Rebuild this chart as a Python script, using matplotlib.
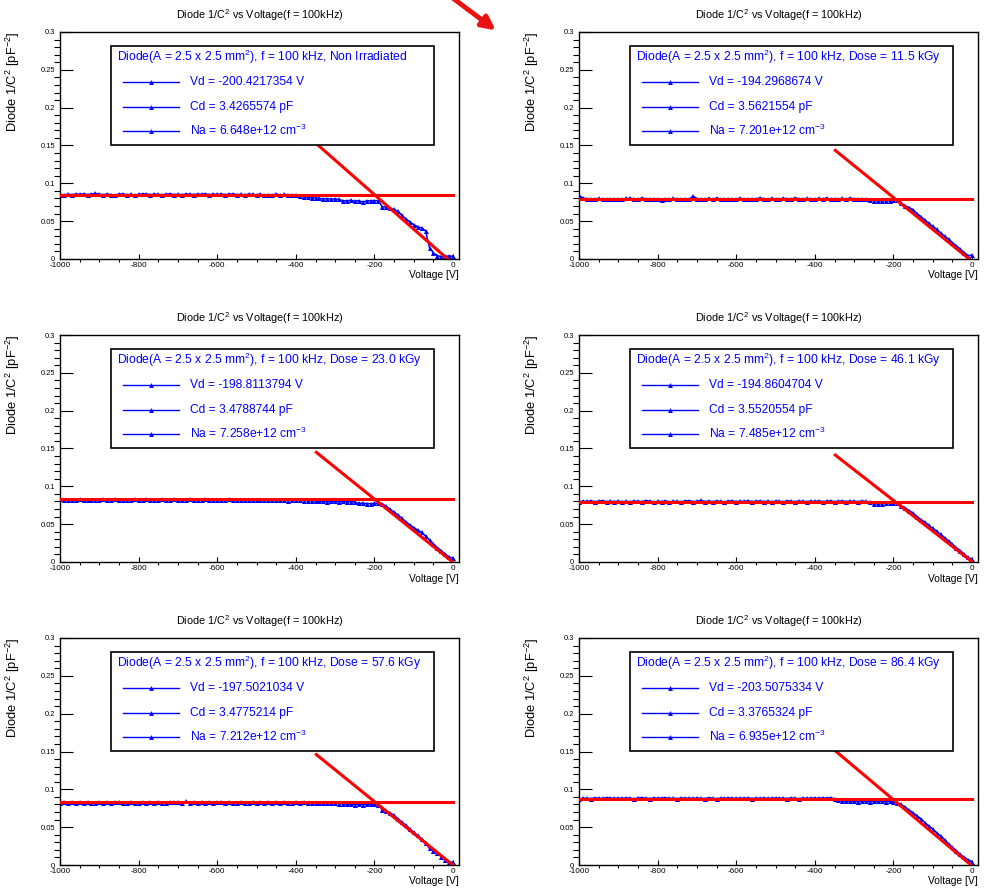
import numpy as np
import matplotlib
matplotlib.use("Agg")
import matplotlib.pyplot as plt
from matplotlib import font_manager
from matplotlib.patches import Rectangle, FancyArrowPatch
from matplotlib.ticker import MultipleLocator, FormatStrFormatter

# narrow font if we have it, otherwise shrink the normal one
names = {f.name for f in font_manager.fontManager.ttflist}
if "Liberation Sans Narrow" in names:
    fam = "Liberation Sans Narrow"
    k = 1.0
else:
    fam = "Liberation Sans"
    k = 0.82
plt.rcParams["font.family"] = [fam, "DejaVu Sans"]
plt.rcParams["mathtext.fontset"] = "custom"
plt.rcParams["mathtext.rm"] = fam
plt.rcParams["mathtext.it"] = fam
plt.rcParams["mathtext.default"] = "regular"
plt.rcParams["axes.unicode_minus"] = False

# bias voltage grid [V]
voltage = np.arange(-1000, 1, 10)

# 1/C^2 readings, units of 1e-4 pF^-2
y_p1 = [852, 848, 856, 850, 858, 855, 860, 852, 857, 868,
        855, 850, 858, 852, 846, 856, 859, 850, 854, 845,
        855, 860, 857, 851, 858, 853, 849, 856, 861, 852,
        855, 850, 859, 856, 852, 858, 854, 860, 851, 857,
        853, 858, 852, 856, 860, 851, 855, 849, 857, 854,
        850, 856, 842, 852, 848, 858, 845, 853, 849, 840,
        840, 830, 822, 818, 812, 805, 800, 796, 798, 790,
        795, 788, 768, 770, 775, 765, 772, 752, 768, 770,
        772, 770, 690, 688, 672, 655, 628, 575, 530, 490,
        455, 425, 410, 370, 150, 80, 45, 30, 35, 40,
        35]
y_p2 = [840, 805, 798, 795, 790, 800, 793, 788, 797, 792,
        795, 790, 800, 803, 796, 789, 806, 795, 790, 798,
        792, 785, 798, 794, 800, 790, 796, 793, 788, 830,
        798, 792, 795, 800, 790, 805, 795, 792, 799, 790,
        794, 802, 795, 790, 798, 793, 808, 796, 791, 800,
        795, 790, 803, 796, 792, 808, 795, 790, 800, 797,
        792, 800, 795, 806, 790, 798, 794, 800, 792, 805,
        795, 790, 798, 793, 785, 770, 768, 765, 772, 770,
        782, 785, 740, 705, 680, 650, 600, 560, 515, 470,
        430, 390, 345, 300, 260, 215, 175, 130, 85, 45,
        50]
y_p3 = [830, 818, 822, 815, 820, 826, 818, 823, 819, 825,
        820, 828, 815, 822, 830, 818, 824, 820, 816, 827,
        822, 818, 826, 820, 815, 824, 830, 819, 822, 826,
        818, 824, 820, 828, 815, 822, 819, 826, 821, 817,
        824, 820, 818, 826, 822, 815, 823, 819, 825, 820,
        816, 823, 819, 825, 818, 822, 815, 820, 812, 818,
        815, 820, 810, 812, 805, 808, 800, 803, 798, 800,
        802, 797, 800, 795, 799, 790, 775, 778, 772, 770,
        775, 778, 770, 735, 695, 660, 620, 575, 530, 490,
        455, 420, 390, 340, 290, 240, 190, 150, 105, 65,
        50]
y_p4 = [795, 805, 800, 808, 797, 803, 810, 798, 802, 799,
        804, 797, 801, 795, 806, 800, 798, 812, 803, 796,
        801, 799, 807, 795, 803, 800, 796, 805, 810, 798,
        802, 815, 799, 804, 797, 806, 800, 795, 803, 808,
        798, 804, 800, 810, 797, 802, 806, 799, 803, 796,
        805, 800, 797, 808, 802, 799, 806, 801, 797, 804,
        800, 806, 798, 803, 808, 797, 802, 806, 799, 804,
        801, 797, 806, 800, 790, 772, 765, 770, 778, 782,
        785, 775, 745, 715, 680, 645, 600, 560, 525, 485,
        445, 405, 365, 320, 280, 235, 190, 150, 105, 60,
        35]
y_p5 = [820, 828, 824, 830, 822, 826, 819, 832, 825, 821,
        827, 823, 829, 820, 826, 831, 824, 819, 828, 822,
        825, 830, 821, 827, 823, 829, 824, 820, 833, 826,
        828, 822, 840, 825, 830, 823, 827, 821, 829, 824,
        826, 831, 822, 828, 824, 819, 830, 825, 821, 827,
        823, 828, 825, 830, 821, 826, 822, 829, 824, 820,
        826, 822, 828, 820, 825, 818, 823, 816, 820, 815,
        818, 812, 808, 805, 800, 798, 803, 797, 800, 802,
        800, 790, 730, 710, 690, 655, 610, 565, 525, 480,
        430, 390, 345, 290, 220, 190, 155, 110, 70, 40,
        35]
y_p6 = [870, 885, 880, 878, 886, 882, 879, 890, 884, 880,
        883, 879, 887, 881, 876, 885, 890, 882, 878, 886,
        880, 884, 888, 879, 883, 877, 886, 881, 884, 879,
        885, 880, 878, 889, 882, 876, 884, 880, 887, 881,
        879, 884, 881, 886, 878, 883, 880, 885, 879, 882,
        886, 880, 884, 878, 887, 881, 876, 884, 880, 883,
        885, 880, 887, 882, 890, 876, 855, 845, 842, 846,
        840, 838, 845, 842, 838, 846, 840, 843, 838, 845,
        835, 820, 800, 765, 725, 690, 650, 610, 560, 515,
        475, 425, 385, 335, 280, 235, 190, 140, 100, 70,
        45]
curves = [y_p1, y_p2, y_p3, y_p4, y_p5, y_p6]

# fit results printed in the legends
labels = ["Non Irradiated", "Dose = 11.5 kGy", "Dose = 23.0 kGy",
          "Dose = 46.1 kGy", "Dose = 57.6 kGy", "Dose = 86.4 kGy"]
vd = [-200.4217354, -194.2968674, -198.8113794, -194.8604704, -197.5021034, -203.5075334]
cd = [3.4265574, 3.5621554, 3.4788744, 3.5520554, 3.4775214, 3.3765324]
na = [6.648e12, 7.201e12, 7.258e12, 7.485e12, 7.212e12, 6.935e12]

# constants for the depletion slope
q = 1.602e-19
eps = 11.9 * 8.854e-12
area = (2.5e-3) ** 2
fit_start = -348.0

W, H = 986, 889
fig = plt.figure(figsize=(W / 100, H / 100), dpi=100)

col_x = [60, 579]
row_top = [32, 335, 638]
aw, ah = 399, 227

blue = "#0000ff"
red = "#ff0000"

for i in range(6):
    r, c = divmod(i, 2)
    ax = fig.add_axes([col_x[c] / W, 1 - (row_top[r] + ah) / H, aw / W, ah / H])

    y = np.array(curves[i]) * 1e-4
    ax.plot(voltage, y, color=blue, lw=1.1, marker="^", ms=3.6, mew=0, zorder=2)

    plateau = 1.0 / cd[i] ** 2
    slope = 2.0 / (q * eps * na[i] * 1e6 * area ** 2) * 1e-24
    ax.plot([-1000, 0], [plateau, plateau], color=red, lw=2.2, zorder=3)
    xs = np.array([fit_start, 0.0])
    ax.plot(xs, plateau - slope * (xs - vd[i]), color=red, lw=2.2, zorder=3)

    ax.set_xlim(-1000, 15)
    ax.set_ylim(0, 0.3)
    ax.xaxis.set_major_locator(MultipleLocator(200))
    ax.xaxis.set_minor_locator(MultipleLocator(50))
    ax.yaxis.set_major_locator(MultipleLocator(0.05))
    ax.yaxis.set_minor_locator(MultipleLocator(0.01))
    ax.yaxis.set_major_formatter(FormatStrFormatter("%g"))
    ax.xaxis.set_major_formatter(FormatStrFormatter("%g"))
    ax.tick_params(axis="both", direction="in", width=0.8)
    ax.tick_params(axis="y", which="major", length=9, pad=3.5, labelsize=6.6 * k)
    ax.tick_params(axis="y", which="minor", length=4.5, width=0.8)
    ax.tick_params(axis="x", which="major", length=3.5, pad=2, labelsize=7.2 * k)
    ax.tick_params(axis="x", which="minor", length=2.2, width=0.8)
    for sp in ax.spines.values():
        sp.set_linewidth(1.0)

    ax.set_xlabel("Voltage [V]", fontsize=9 * k, loc="right")
    ax.xaxis.set_label_coords(1.0, -16.5 / ah)
    ax.xaxis.label.set_va("center")
    ax.set_ylabel("Diode 1/C$^{2}$ [pF$^{-2}$]", fontsize=11.3 * k, loc="top")
    ax.yaxis.set_label_coords(-38 / aw, 1.0)

    ax.text(0.5, 1 + 17 / ah, "Diode 1/C$^{2}$ vs Voltage(f = 100kHz)",
            transform=ax.transAxes, ha="center", va="center", fontsize=9.6 * k)

    # legend box drawn by hand
    ax.add_patch(Rectangle((0.128, 0.502), 0.809, 0.436, transform=ax.transAxes,
                           facecolor="white", edgecolor="black", lw=1.2, zorder=5))
    ax.text(0.143, 0.89, "Diode(A = 2.5 x 2.5 mm$^{2}$), f = 100 kHz, " + labels[i],
            transform=ax.transAxes, color=blue, fontsize=10.6 * k, va="center", zorder=6)
    m, e = ("%.3e" % na[i]).split("e")
    entries = ["Vd = %.7f V" % vd[i], "Cd = %.7f pF" % cd[i],
               "Na = %se+%d cm$^{-3}$" % (m, int(e))]
    for yy, txt in zip([0.778, 0.668, 0.566], entries):
        ax.plot([0.158, 0.298], [yy, yy], color=blue, lw=1, transform=ax.transAxes,
                zorder=6, clip_on=False)
        ax.plot([0.228], [yy], color=blue, marker="^", ms=3.5, mew=0,
                transform=ax.transAxes, zorder=6)
        ax.text(0.326, yy, txt, transform=ax.transAxes, color=blue,
                fontsize=10.5 * k, va="center", zorder=6)

# red pointer arrow at the top
arrow = FancyArrowPatch((450 / W, 1 + 4 / H), (498 / W, 1 - 32 / H),
                        transform=fig.transFigure, arrowstyle="-|>",
                        mutation_scale=20, color="#ee1111", lw=3.5)
fig.add_artist(arrow)

fig.savefig("out.png", dpi=100)
